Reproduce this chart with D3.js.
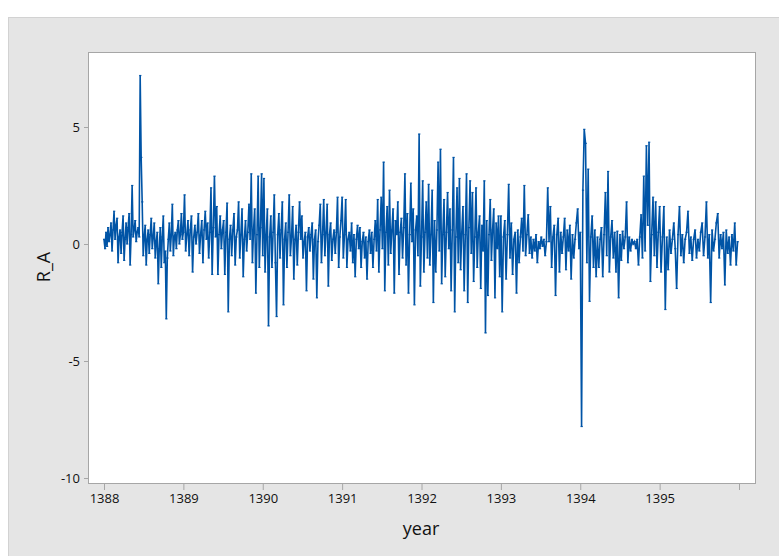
<!DOCTYPE html>
<html lang="en">
<head>
<meta charset="UTF-8">
<script src="https://d3js.org/d3.v7.min.js"></script>
<title>R_A by year</title>
<style>
  body { margin: 0; background: #ffffff; }
  svg { display: block; }
  .tick text { font-family: "Open Sans", "Noto Sans", sans-serif; font-size: 13px; fill: #111111; }
  .axis-title { font-family: "Open Sans", "Noto Sans", sans-serif; font-size: 18px; fill: #111111; }
</style>
</head>
<body>
<div id="chart"></div>
<script>
// tick labels on the year axis (last tick is drawn without a label)
const yearTicks = [1388, 1389, 1390, 1391, 1392, 1393, 1394, 1395, 1396];
const raTicks = [-10, -5, 0, 5];

// R_A values, one list per year
const r1388 = [0.2, -0.2, 0.5, -0.1, 0.7, 0.1, 0.4, 0.9, -0.3, 0.6, 1.4, 0.2, 0.8, 1.1, -0.8, 0.3,
  0.6, -0.4, 0.5, 1.2, -0.7, 0.2, 0.9, 0.0, 0.7, 1.3, -0.9, 0.4, 2.5, 0.3, 0.6, 1.0, 0.1, 0.5,
  0.7, 0.3, 7.2, 3.7, 1.8, -0.5, 0.3, 0.8, -0.9, 0.2, 0.6, -0.4, 0.4, 1.1, -0.2, 0.3, 0.9, -0.6,
  0.1, 0.5, -1.7, -0.2, 0.7, -1.0, 0.3, 1.2, -0.8, -0.3, -3.2, -0.6, 0.2, 0.9, -0.3, 0.4, 1.7,
  -0.5, 0.3, 0.5, -0.2, 0.6, 1.0, 0.0, 0.4, 1.3, 0.2];
const r1389 = [0.5, 2.1, -0.3, 0.4, 1.0, -0.5, 0.6, 1.2, -1.2, 0.3, 0.8, 0.0, 0.5, 1.3, -0.4, 0.4,
  1.0, -0.8, 0.6, 1.4, 0.2, 0.9, -0.6, 0.5, 2.4, -1.3, 0.7, 2.9, 0.3, 1.6, -1.3, 0.4, 1.2, -0.2,
  0.6, 1.0, -1.3, 0.5, 1.75, -2.9, 0.2, 0.8, -0.5, 0.6, 1.3, -0.9, 0.3, 0.6, 1.8, -0.6, 0.4, 1.5,
  -1.4, 0.2, 1.0, -0.3, 0.5, 1.7, 0.2, 3.0, -0.8, 0.6, 1.5, -2.1, 0.4, 2.9, -1.0, 0.7, 3.0];
const r1390 = [-0.5, 2.8, -1.2, 0.4, 1.5, -3.5, 0.3, 1.2, -1.0, 0.5, 2.1, -0.8, -3.1, 0.4, 1.3,
  -0.6, 0.6, 1.8, -2.6, 0.2, 0.9, -1.0, 0.5, 2.1, -0.5, 0.3, 1.6, -1.5, 0.2, 0.8, -0.9, 0.5, 1.8,
  0.2, 1.2, -0.6, 0.1, 0.5, -2.0, 0.3, 0.7, -0.3, 0.4, 0.9, -1.5, 0.2, 0.6, -2.3, 0.1, 0.8, 1.7,
  -0.8, 0.4, 1.9, -0.5, 0.5, 1.7, -1.8, 0.4, 0.9, -0.7, 0.2, 0.6, -0.4, 0.5, 2.0, -1.0, 0.3, 1.0];
const r1391 = [2.0, -0.6, 0.4, 1.9, -1.0, 0.2, 0.5, -0.3, 0.9, -0.8, 0.4, -1.4, 0.2, 0.8, -0.2,
  0.7, -1.0, 0.1, 0.5, -0.6, 0.3, -1.5, 0.1, 0.6, -0.4, 0.5, -1.0, 0.2, 1.0, -0.3, 1.9, -1.2, 0.6,
  2.0, -0.2, 3.5, -2.0, 0.5, 1.6, -0.9, 2.3, -0.4, 0.6, 1.5, -2.1, 1.0, 0.4, 1.8, -1.3, 0.5, 1.1,
  -0.6, 0.7, 3.0, -0.9, 1.3, -2.1, 0.4, 2.6, 0.1, 1.5, -2.6, 0.6, 1.2, -0.5, 4.7, -1.8];
const r1392 = [0.3, 2.7, -1.2, 0.5, 1.8, -0.6, 2.55, -0.9, 0.4, 2.3, -2.5, 1.0, -1.2, 0.6, 3.5,
  -0.3, 4.05, -1.7, 0.4, 1.9, -1.4, 0.5, 2.2, -0.2, 1.5, -2.0, 0.6, 3.7, -2.9, 0.3, 2.4, -0.8,
  2.8, -1.1, 0.5, 1.6, -2.0, 0.4, 3.0, -2.5, 0.7, 2.7, -0.4, 2.2, -1.6, 0.3, 2.4, -1.0, 0.5, 1.2,
  -1.9, 0.8, -0.3, 2.7, -3.8, 1.0, -2.2, 0.4, 1.9, -0.7, 0.6, 1.5, -2.3, 0.9, -0.2, 1.2, -1.4];
const r1393 = [1.2, -2.9, 0.3, 1.0, -1.5, 0.4, 2.55, -0.6, 0.9, -1.3, 0.2, 0.5, -2.1, 0.6, -0.8,
  0.3, 1.1, -0.3, 2.5, -0.5, 0.4, 1.25, -0.4, 0.3, -0.6, 0.2, -0.3, 0.4, -0.8, 0.1, -0.2, 0.3,
  -0.1, 0.2, -0.5, 0.1, 2.4, 0.1, 1.6, -1.0, 0.3, 0.8, -2.2, 0.4, 1.1, -1.2, 0.5, -0.4, 0.3, 1.1,
  -1.1, 0.6, -0.3, 0.8, -1.5, 0.4, -0.6, 0.2, 0.9, 1.5, -0.2];
const r1394 = [0.5, -7.8, 2.3, 4.9, 4.3, -0.8, 3.2, -2.45, 0.3, 1.2, -1.0, 0.6, -1.4, 0.3, -1.0,
  0.2, 0.7, -1.4, 0.4, 2.2, -0.5, 3.1, -1.2, 0.3, 1.0, -0.6, 0.5, -1.2, 0.55, -2.3, 0.4, -0.7,
  0.55, -0.2, 0.3, 1.8, -0.8, 0.3, -0.3, 0.2, 0.0, 0.1, -0.2, 0.2, -0.9, 0.3, 1.25, -0.6, 2.9,
  -0.3, 4.2, 0.8, 4.35, -1.6, 0.4, 2.0, -0.5, 1.8, -1.0, 0.5];
const r1395 = [1.6, -1.2, 0.3, 1.6, -2.8, 0.3, -1.1, 0.6, -0.4, 0.2, 0.9, -0.2, -1.9, 0.4, 1.6,
  -0.5, 0.4, -0.8, 0.2, 0.5, 1.4, -0.4, 0.3, -0.7, 0.2, 0.6, -0.6, 0.2, -0.3, 0.5, 0.9, -0.5, 0.3,
  1.8, -0.6, 0.4, -2.5, 0.6, -0.3, 0.2, 0.9, 1.3, -0.6, 0.4, -0.2, 0.5, -1.75, 0.6, -0.4, 0.3,
  -0.9, 0.4, -0.3, 0.9, -0.9, 0.1];

const yearly = [
  { year: 1388, values: r1388 }, { year: 1389, values: r1389 },
  { year: 1390, values: r1390 }, { year: 1391, values: r1391 },
  { year: 1392, values: r1392 }, { year: 1393, values: r1393 },
  { year: 1394, values: r1394 }, { year: 1395, values: r1395 }
];

// each observation sits at its position inside its own year
const series = [];
yearly.forEach(y => {
  y.values.forEach((v, j) => series.push({ t: y.year + j / y.values.length, v: v }));
});

const width = 779, height = 556;
const plot = { left: 88, top: 52, width: 668, height: 432 };

const svg = d3.select("#chart").append("svg")
  .attr("width", width)
  .attr("height", height);

// grey outer panel
svg.append("rect")
  .attr("x", 8.5).attr("y", 17.5)
  .attr("width", width).attr("height", height)
  .attr("fill", "#e5e5e5")
  .attr("stroke", "#d2d2d2");

const g = svg.append("g")
  .attr("transform", `translate(${plot.left},${plot.top})`);

g.append("rect")
  .attr("x", 0.5).attr("y", 0.5)
  .attr("width", plot.width - 1).attr("height", plot.height - 1)
  .attr("fill", "#ffffff")
  .attr("stroke", "#a6a6a6");

const x = d3.scaleLinear().domain([1388, 1396]).range([16, 651]);
const y = d3.scaleLinear().domain([-10, 5]).range([426, 75]);

const line = d3.line()
  .x(d => x(d.t))
  .y(d => y(d.v));

g.append("path")
  .datum(series)
  .attr("fill", "none")
  .attr("stroke", "#0054a6")
  .attr("stroke-width", 1.6)
  .attr("d", line);

// small point symbols like the original
g.selectAll(".pt")
  .data(series)
  .enter().append("rect")
  .attr("class", "pt")
  .attr("x", d => x(d.t) - 1)
  .attr("y", d => y(d.v) - 0.6)
  .attr("width", 2.2).attr("height", 1.2)
  .attr("fill", "#0054a6");

const xAxis = g.append("g")
  .attr("transform", `translate(0,${plot.height})`)
  .call(d3.axisBottom(x).tickValues(yearTicks).tickSize(6).tickPadding(4)
    .tickFormat(d => d === 1396 ? "" : d));
xAxis.select(".domain").remove();
xAxis.selectAll(".tick line").attr("stroke", "#a6a6a6");

const yAxis = g.append("g")
  .call(d3.axisLeft(y).tickValues(raTicks).tickSize(4).tickPadding(4)
    .tickFormat(d => String(d)));
yAxis.select(".domain").remove();
yAxis.selectAll(".tick line").attr("stroke", "#a6a6a6");

svg.append("text")
  .attr("class", "axis-title")
  .attr("x", 421).attr("y", 535)
  .attr("text-anchor", "middle")
  .text("year");

svg.append("text")
  .attr("class", "axis-title")
  .attr("transform", "translate(50,267) rotate(-90)")
  .attr("text-anchor", "middle")
  .text("R_A");
</script>
</body>
</html>
